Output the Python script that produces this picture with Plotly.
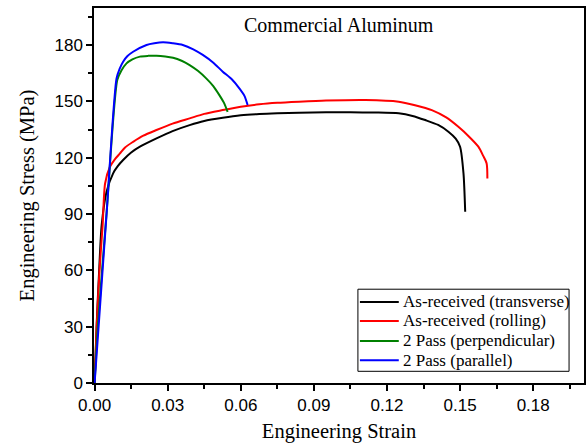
import plotly.graph_objects as go

# As-received (transverse)
t_x = [0.0, 0.0008, 0.0018, 0.0029, 0.0049, 0.0076, 0.0095, 0.0117, 0.015, 0.0186, 0.0254, 0.032, 0.039, 0.045, 0.0526, 0.06, 0.0676, 0.075, 0.0839, 0.095, 0.1050, 0.115, 0.1248, 0.1305, 0.1357, 0.141, 0.1452, 0.1482, 0.1500, 0.1514, 0.1521]
t_y = [0.0, 30.0, 58.0, 84.1, 101.9, 111.7, 115.5, 118.8, 122.8, 125.9, 130.3, 134.2, 137.4, 139.6, 141.3, 142.6, 143.3, 143.7, 144.0, 144.2, 144.2, 144.1, 143.7, 142.3, 140.1, 137.5, 133.9, 130.2, 125.9, 111.7, 91.2]

# As-received (rolling)
r_x = [0.0, 0.00085, 0.002, 0.0033, 0.0043, 0.0063, 0.0083, 0.0104, 0.0125, 0.0158, 0.02, 0.0254, 0.032, 0.039, 0.045, 0.0526, 0.06, 0.0676, 0.075, 0.0839, 0.095, 0.1112, 0.1248, 0.1315, 0.1384, 0.1443, 0.1493, 0.1535, 0.1575, 0.1595, 0.1609, 0.1612]
r_y = [0.0, 30.0, 60.0, 84.1, 106.3, 115.2, 119.2, 122.3, 125.5, 128.5, 131.8, 134.8, 138.2, 141.0, 143.4, 145.4, 147.2, 148.5, 149.3, 149.9, 150.5, 150.8, 149.9, 148.0, 145.4, 141.5, 136.5, 131.5, 125.9, 121.0, 117.0, 109.0]

# 2 Pass (perpendicular)
p_x = [0.0, 0.0013, 0.005, 0.0093, 0.0110, 0.0131, 0.0155, 0.0186, 0.022, 0.0254, 0.029, 0.0322, 0.0357, 0.039, 0.0425, 0.0458, 0.0487, 0.0512, 0.053, 0.0546]
p_y = [0.0, 30.0, 92.0, 161.4, 166.5, 170.3, 172.4, 173.9, 174.3, 174.4, 174.0, 173.3, 171.7, 169.4, 166.2, 162.3, 158.2, 153.4, 149.5, 144.5]

# 2 Pass (parallel)
l_x = [0.0, 0.0049, 0.0090, 0.0103, 0.0117, 0.0135, 0.0158, 0.0213, 0.0245, 0.0281, 0.032, 0.0362, 0.0405, 0.0444, 0.0486, 0.0526, 0.0563, 0.0594, 0.0615, 0.0628]
l_y = [0.0, 90.0, 162.3, 167.5, 171.2, 174.2, 176.5, 180.1, 181.0, 181.5, 181.0, 180.1, 177.8, 174.8, 170.8, 165.9, 161.8, 157.0, 153.0, 148.1]

names = ["As-received (transverse)", "As-received (rolling)", "2 Pass (perpendicular)", "2 Pass (parallel)"]
colors = ["#000000", "#ff0000", "#008000", "#0000ff"]
series = [(t_x, t_y), (r_x, r_y), (p_x, p_y), (l_x, l_y)]

x_ticks = [0.0, 0.03, 0.06, 0.09, 0.12, 0.15, 0.18]
x_labels = ["0.00", "0.03", "0.06", "0.09", "0.12", "0.15", "0.18"]
y_ticks = [0, 30, 60, 90, 120, 150, 180]

serif = "Liberation Serif, Times New Roman, serif"
sans = "Liberation Sans, Arial, sans-serif"

fig = go.Figure()
for (xs, ys), n, c in zip(series, names, colors):
    fig.add_trace(go.Scatter(x=xs, y=ys, mode="lines", name=n, showlegend=False,
                             line=dict(color=c, width=2, shape="spline", smoothing=0.7)))

# custom legend box (paper coordinates)
shapes = [dict(type="rect", xref="paper", yref="paper", x0=0.5386, x1=0.9695, y0=0.0312, y1=0.2501,
               line=dict(color="black", width=1), fillcolor="white", layer="above")]
annotations = [dict(text="Commercial Aluminum", x=0.5, y=0.99, xref="paper", yref="paper",
                    xanchor="center", yanchor="top", showarrow=False,
                    font=dict(family=serif, size=20, color="black"))]
legend_y = [0.2162, 0.1655, 0.1121, 0.0606]
for n, c, yy in zip(names, colors, legend_y):
    shapes.append(dict(type="line", xref="paper", yref="paper", x0=0.5427, x1=0.622, y0=yy, y1=yy,
                       line=dict(color=c, width=2), layer="above"))
    annotations.append(dict(text=n, x=0.626, y=yy, xref="paper", yref="paper", xanchor="left",
                            yanchor="middle", showarrow=False,
                            font=dict(family=serif, size=17, color="black")))

fig.update_layout(
    width=588, height=443,
    margin=dict(l=94, r=2, t=8, b=60),
    paper_bgcolor="white", plot_bgcolor="white",
    showlegend=False,
    shapes=shapes, annotations=annotations,
    xaxis=dict(range=[-0.00025, 0.20086], tickvals=x_ticks, ticktext=x_labels,
               ticks="outside", ticklen=6, tickwidth=1.5, tickcolor="black",
               showline=True, linecolor="black", linewidth=1.5, mirror=True,
               showgrid=False, zeroline=False,
               minor=dict(dtick=0.015, tick0=0, ticks="outside", ticklen=4, tickwidth=1.5, tickcolor="black", showgrid=False),
               tickfont=dict(family=sans, size=17, color="black"),
               title=dict(text="Engineering Strain", font=dict(family=serif, size=20.5, color="black"), standoff=10)),
    yaxis=dict(range=[0, 199.8], tickvals=y_ticks,
               ticks="outside", ticklen=6, tickwidth=1.5, tickcolor="black",
               showline=True, linecolor="black", linewidth=1.5, mirror=True,
               showgrid=False, zeroline=False,
               minor=dict(dtick=15, tick0=0, ticks="outside", ticklen=4, tickwidth=1.5, tickcolor="black", showgrid=False),
               tickfont=dict(family=sans, size=17, color="black"),
               title=dict(text="Engineering Stress (MPa)", font=dict(family=serif, size=20.5, color="black"), standoff=14)),
)

fig.write_html("out.html")
